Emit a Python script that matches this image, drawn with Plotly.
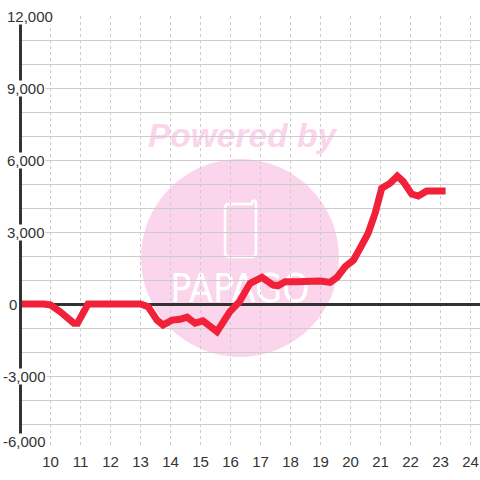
import plotly.graph_objects as go

hours = [8.9, 9.78, 10.0, 10.32, 10.78, 10.9, 11.25, 11.5, 12.0, 12.5, 13.0, 13.25, 13.55, 13.75, 14.05, 14.32, 14.55, 14.82, 15.08, 15.55, 15.98, 16.3, 16.65, 17.05, 17.42, 17.58, 17.82, 18.2, 19.0, 19.32, 19.55, 19.82, 20.1, 20.32, 20.59, 20.82, 21.04, 21.32, 21.56, 21.76, 22.04, 22.26, 22.54, 23.17]
values = [0, 0, -40, -320, -800, -800, 0, 0, 0, 0, 0, -110, -670, -875, -670, -640, -550, -800, -700, -1150, -320, 100, 860, 1110, 790, 760, 930, 930, 960, 900, 1110, 1550, 1830, 2320, 2950, 3780, 4820, 5030, 5330, 5100, 4580, 4500, 4710, 4710]

x_ticks = list(range(10, 25))
y_labels = ["12,000", "9,000", "6,000", "3,000", "0", "-3,000", "-6,000"]
y_label_values = [12000, 9000, 6000, 3000, 0, -3000, -6000]
y_label_left = [6, 6, 6, 6, 8, 2, 2]
y_label_shift = [0, 0, 0, 0, 0, 0, 7]

W = H = 480
L, R, T, B = 22, 0, 16, 32
GRID = "#cccccc"
INK = "#333333"
PINK = "#fbd5ec"
RED = "#f02139"
FONT = "Liberation Sans"

def px(x):
    return (x - L) / (W - L - R)

def py(y):
    return 1 - (y - T) / (H - T - B)

shapes = [
    dict(type="circle", xref="paper", yref="paper", layer="below",
         x0=px(141), x1=px(339), y0=py(357), y1=py(159),
         fillcolor=PINK, line=dict(width=0)),
    dict(type="path", xref="paper", yref="paper", layer="below",
         path=(f"M {px(249)} {py(204)} L {px(229)} {py(204)} "
               f"Q {px(225)} {py(204)} {px(225)} {py(208)} "
               f"L {px(225)} {py(252)} Q {px(225)} {py(257)} {px(229)} {py(257)} "
               f"L {px(252)} {py(257)} Q {px(256)} {py(257)} {px(256)} {py(252)} "
               f"L {px(256)} {py(202)} Q {px(254)} {py(199)} {px(252)} {py(202)} "
               f"L {px(252)} {py(204)} L {px(249)} {py(204)}"),
         fillcolor="rgba(0,0,0,0)", line=dict(color="white", width=2.5)),
    dict(type="rect", xref="paper", yref="paper", layer="below",
         x0=px(150), x1=px(330), y0=py(310), y1=py(260),
         fillcolor="rgba(0,0,0,0)", line=dict(width=0),
         label=dict(text="PAPAGO", textposition="middle center",
                    font=dict(family="DejaVu Sans Condensed", size=39, color="white"))),
    dict(type="rect", xref="paper", yref="paper", layer="below",
         x0=px(132), x1=px(352), y0=py(152), y1=py(112),
         fillcolor="rgba(0,0,0,0)", line=dict(width=0),
         label=dict(text="<b><i>Powered by</i></b>", textposition="middle center",
                    font=dict(family=FONT, size=33.5, color=PINK))),
]

x_per_px = 1 / 30.0
x_left = 10 - (50.5 - L) * x_per_px
x_right = 10 + (W - 50.5) * x_per_px

annotations = [
    dict(text=t, x=v_left, y=v, xref="paper", yref="y", xanchor="left", yanchor="middle",
         yshift=s, showarrow=False, bgcolor="white", borderpad=0, height=15,
         font=dict(family=FONT, size=15, color=INK))
    for t, v, v_left, s in zip(y_labels, y_label_values,
                               [px(a) for a in y_label_left], y_label_shift)
]

fig = go.Figure(go.Scatter(
    x=hours, y=values, mode="lines", cliponaxis=False,
    line=dict(color=RED, width=7, shape="linear", simplify=False),
    hoverinfo="skip",
))
fig.update_layout(
    width=W, height=H, margin=dict(l=L, r=R, t=T, b=B, pad=0),
    paper_bgcolor="white", plot_bgcolor="rgba(0,0,0,0)",
    showlegend=False, shapes=shapes, annotations=annotations,
    xaxis=dict(range=[x_left, x_right], tickmode="array", tickvals=x_ticks,
               ticktext=[str(t) for t in x_ticks], showgrid=True, gridcolor=GRID,
               gridwidth=1, griddash="3px,3px", zeroline=False, showline=False,
               ticks="", ticklabelstandoff=3,
               tickfont=dict(family=FONT, size=15, color=INK)),
    yaxis=dict(range=[-6000, 12000], tick0=0, dtick=1000, showgrid=True, gridcolor=GRID,
               gridwidth=1.2, zeroline=True, zerolinecolor=INK, zerolinewidth=3,
               showline=True, linecolor=INK, linewidth=3, ticks="", showticklabels=False),
)
fig.write_html("out.html", config={"displayModeBar": False},
               post_script="document.body.style.margin='0';document.documentElement.style.overflow='hidden';")
